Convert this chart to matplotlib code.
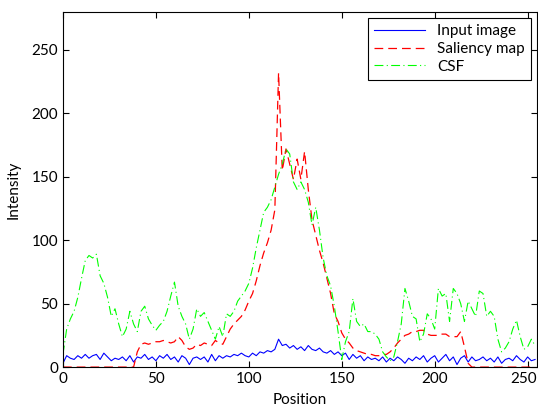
import numpy as np
import matplotlib
matplotlib.use("Agg")
import matplotlib.pyplot as plt
from matplotlib.transforms import ScaledTranslation

# sampled every 2 positions
position = np.arange(0, 256, 2)

input_image = [3, 9, 7, 6, 9, 7, 10, 7, 9, 10, 6, 11, 8, 5, 7, 6,
               8, 5, 9, 4, 8, 7, 10, 6, 8, 5, 9, 7, 10, 6, 8, 4,
               9, 7, 2, 7, 8, 6, 8, 4, 10, 5, 9, 7, 9, 8, 10, 9,
               11, 9, 8, 11, 9, 12, 11, 13, 12, 14, 22, 17, 18, 15, 17, 14,
               16, 13, 17, 14, 13, 15, 12, 11, 13, 10, 12, 9, 11, 6, 10, 7,
               9, 5, 8, 6, 7, 5, 8, 4, 7, 5, 8, 6, 3, 7, 5, 8,
               6, 9, 4, 7, 9, 4, 7, 10, 5, 8, 2, 7, 9, 4, 8, 5,
               6, 8, 5, 7, 4, 8, 3, 6, 7, 5, 9, 6, 4, 8, 5, 6]

saliency_map = [0, 0, 0, 0, 0, 0, 0, 0, 0, 0, 0, 0, 0, 0, 0, 0,
                0, 0, 0, 0, 12, 18, 19, 18, 19, 20, 20, 21, 20, 19, 20, 24,
                21, 16, 14, 15, 18, 17, 19, 18, 17, 21, 19, 18, 24, 30, 34, 37,
                40, 45, 52, 58, 68, 80, 90, 98, 108, 124, 232, 155, 172, 160, 148, 164,
                148, 170, 140, 116, 104, 92, 82, 70, 58, 42, 36, 27, 22, 19, 15, 13,
                12, 11, 10, 10, 9, 9, 10, 10, 12, 15, 19, 22, 25, 26, 28, 28,
                29, 29, 26, 25, 25, 25, 26, 26, 24, 24, 24, 28, 16, 3, 0, 0,
                0, 0, 0, 0, 0, 0, 0, 0, 0, 0, 0, 0, 0, 0, 0, 0]

csf = [10, 30, 38, 44, 55, 70, 84, 88, 86, 89, 72, 66, 55, 40, 46, 34,
       24, 30, 44, 34, 28, 44, 48, 38, 33, 29, 33, 36, 44, 56, 67, 48,
       40, 34, 22, 30, 46, 40, 43, 36, 29, 22, 32, 24, 42, 40, 44, 52,
       56, 60, 66, 78, 94, 108, 122, 126, 132, 142, 152, 160, 172, 168, 146, 140,
       146, 140, 130, 112, 126, 108, 86, 72, 64, 48, 28, 6, 20, 28, 54, 36,
       32, 34, 28, 28, 26, 22, 12, 8, 5, 8, 20, 34, 62, 52, 40, 38,
       20, 26, 42, 38, 30, 62, 56, 58, 36, 62, 58, 50, 36, 52, 46, 40,
       60, 58, 40, 44, 40, 22, 12, 15, 20, 30, 37, 24, 14, 16, 22, 17]

plt.rcParams["font.family"] = ["Lato", "DejaVu Sans"]
plt.rcParams["font.size"] = 11

fig = plt.figure(figsize=(5.38, 4.12), dpi=100)
ax = fig.add_axes([0.117, 0.109, 0.881, 0.862])

ax.plot(position, input_image, "-", color="blue", linewidth=0.8, label="Input image")
ax.plot(position, saliency_map, "--", color="red", linewidth=0.9,
        dashes=(7, 4), label="Saliency map")
ax.plot(position, csf, "-.", color=(0, 1, 0), linewidth=0.8,
        dashes=(8, 3, 1, 3), label="CSF")

ax.set_xlim(0, 255)
ax.set_ylim(0, 280)
ax.set_xticks(range(0, 251, 50))
ax.set_yticks(range(0, 251, 50))
ax.tick_params(direction="in", top=True, right=True, length=4)
ax.set_xlabel("Position", labelpad=5)
ax.set_ylabel("Intensity", labelpad=8)

# keep the last x tick label inside the figure
last = ax.get_xticklabels()[-1]
last.set_transform(last.get_transform() + ScaledTranslation(-3 / 72, 0, fig.dpi_scale_trans))

leg = ax.legend(loc="upper right", fancybox=False, edgecolor="black",
                framealpha=1, borderaxespad=0.4, handlelength=3.3,
                labelspacing=0.25, borderpad=0.4)
leg.get_frame().set_linewidth(0.8)

fig.savefig("out.png", dpi=100)
